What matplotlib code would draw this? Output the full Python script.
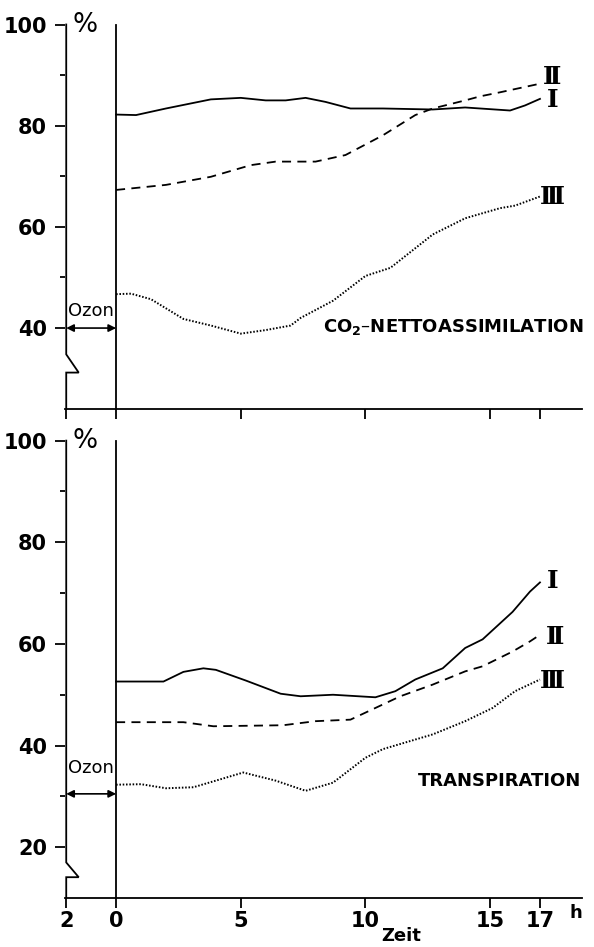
import matplotlib.pyplot as plt

# CO2 net assimilation (%), curves I, II, III
co2_h1 = [0, 0.8, 2.0, 3.8, 5.0, 6.0, 6.8, 7.6, 8.4, 9.4, 10.7, 12.7, 14.0, 15.8, 16.4, 17.0]
co2_v1 = [82.2, 82.1, 83.4, 85.2, 85.5, 85.0, 85.0, 85.5, 84.7, 83.4, 83.4, 83.2, 83.6, 83.0, 84.0, 85.3]
co2_h2 = [0, 2.0, 3.8, 5.4, 6.4, 8.0, 9.2, 10.7, 12.0, 12.7, 14.0, 14.6, 15.4, 17.0]
co2_v2 = [67.3, 68.3, 69.9, 72.2, 72.9, 72.9, 74.2, 78.1, 82.1, 83.4, 85.0, 85.8, 86.6, 88.3]
co2_h3 = [0, 0.6, 1.4, 2.7, 3.8, 5.0, 6.0, 7.0, 7.4, 8.7, 10.0, 11.0, 12.7, 14.0, 15.4, 16.0, 17.0]
co2_v3 = [46.7, 46.8, 45.7, 41.8, 40.5, 38.9, 39.6, 40.5, 42.0, 45.4, 50.3, 51.9, 58.5, 61.7, 63.7, 64.2, 66.0]

# Transpiration (%), curves I, II, III
tr_h1 = [0, 1.9, 2.7, 3.5, 4.0, 5.2, 6.6, 7.4, 8.7, 10.4, 11.2, 12.0, 13.1, 14.0, 14.7, 15.9, 16.6, 17.0]
tr_v1 = [52.6, 52.6, 54.5, 55.2, 54.9, 52.8, 50.2, 49.7, 50.0, 49.5, 50.7, 53.0, 55.2, 59.2, 60.9, 66.3, 70.3, 72.1]
tr_h2 = [0, 2.7, 3.9, 6.7, 8.0, 9.4, 10.4, 11.4, 12.7, 14.0, 14.7, 15.9, 16.6, 17.0]
tr_v2 = [44.6, 44.6, 43.8, 44.0, 44.8, 45.1, 47.4, 49.7, 52.0, 54.6, 55.6, 58.5, 60.5, 61.8]
tr_h3 = [0, 1.0, 2.0, 3.1, 4.0, 5.1, 6.4, 7.6, 8.7, 10.0, 10.7, 12.7, 14.0, 15.1, 16.0, 17.0]
tr_v3 = [32.3, 32.4, 31.6, 31.8, 33.1, 34.7, 33.1, 31.1, 32.7, 37.6, 39.3, 42.2, 44.8, 47.4, 50.7, 53.0]

x_ticks = [-2, 0, 5, 10, 15, 17]
x_labels = ["2", "0", "5", "10", "15", "17"]
roman = ["Ⅰ", "Ⅱ", "Ⅲ"]

fig = plt.figure(figsize=(5.94, 9.47), dpi=100)
ax1 = fig.add_axes([0.1094, 0.5681, 0.871, 0.4087])
ax2 = fig.add_axes([0.1094, 0.0517, 0.871, 0.4857])

lw = 1.3
dash = (0, (5, 3.5))
dot = (0, (0.8, 0.9))


def setup(ax, ymin, majors, minors, zig, ozon_y, ozon_text_y):
    ax.set_xlim(-2.05, 18.7)
    ax.set_ylim(ymin, 100.5)
    for s in ["top", "right", "left"]:
        ax.spines[s].set_visible(False)
    ax.spines["bottom"].set_linewidth(lw)
    ax.set_yticks(majors)
    ax.set_yticks(minors, minor=True)
    ax.set_yticklabels([str(v) for v in majors], fontweight="bold")
    ax.tick_params(axis="y", which="major", length=7, width=lw, pad=6, labelsize=15)
    ax.tick_params(axis="y", which="minor", length=3.5, width=lw)
    ax.set_xticks(x_ticks)
    ax.tick_params(axis="x", which="major", length=7, width=lw, pad=2, labelsize=15)
    # left axis with break
    ax.plot([-2, -2, -1.5, -2, -2], [100, zig[0], zig[1], zig[1], ymin],
            color="black", lw=lw, clip_on=False, solid_joinstyle="miter")
    # zero line
    ax.plot([0, 0], [ymin, 100], color="black", lw=lw, clip_on=False)
    ax.text(-1.75, 100, "%", fontsize=19, ha="left", va="center")
    ax.annotate("", xy=(0, ozon_y), xytext=(-2, ozon_y),
                arrowprops=dict(arrowstyle="<|-|>", color="black", lw=1.2,
                                mutation_scale=11, shrinkA=0, shrinkB=0))
    ax.text(-1.0, ozon_text_y, "Ozon", fontsize=13, ha="center", va="center")


setup(ax1, 24, [40, 60, 80, 100], [50, 70, 90], (34.8, 31.2), 40, 43.4)
setup(ax2, 10, [20, 40, 60, 80, 100], [30, 50, 70, 90], (17.0, 14.1), 30.5, 35.5)

ax1.set_xticklabels([])
ax2.set_xticklabels(x_labels, fontweight="bold")

ax1.plot(co2_h1, co2_v1, color="black", lw=lw)
ax1.plot(co2_h2, co2_v2, color="black", lw=lw, linestyle=dash)
ax1.plot(co2_h3, co2_v3, color="black", lw=1.4, linestyle=dot)

ax2.plot(tr_h1, tr_v1, color="black", lw=lw)
ax2.plot(tr_h2, tr_v2, color="black", lw=lw, linestyle=dash)
ax2.plot(tr_h3, tr_v3, color="black", lw=1.4, linestyle=dot)

rfont = dict(family="DejaVu Serif", fontsize=18, fontweight="bold", ha="center", va="center")
ax1.text(17.5, 89.6, roman[1], **rfont)
ax1.text(17.5, 85.0, roman[0], **rfont)
ax1.text(17.5, 66.0, roman[2], **rfont)
ax2.text(17.5, 72.4, roman[0], **rfont)
ax2.text(17.6, 61.4, roman[1], **rfont)
ax2.text(17.5, 52.8, roman[2], **rfont)

ax1.text(18.75, 40.3, "CO$_\\mathbf{2}$–NETTOASSIMILATION", fontsize=13, fontweight="bold",
         ha="right", va="center")
ax2.text(18.65, 33.0, "TRANSPIRATION", fontsize=13, fontweight="bold", ha="right", va="center")

ax2.text(18.45, 7.0, "h", fontsize=13, fontweight="bold", ha="center", va="center")
fig.text(0.675, 0.002, "Zeit", fontsize=13, fontweight="bold", ha="center", va="bottom")

plt.savefig("out.png", dpi=100)
